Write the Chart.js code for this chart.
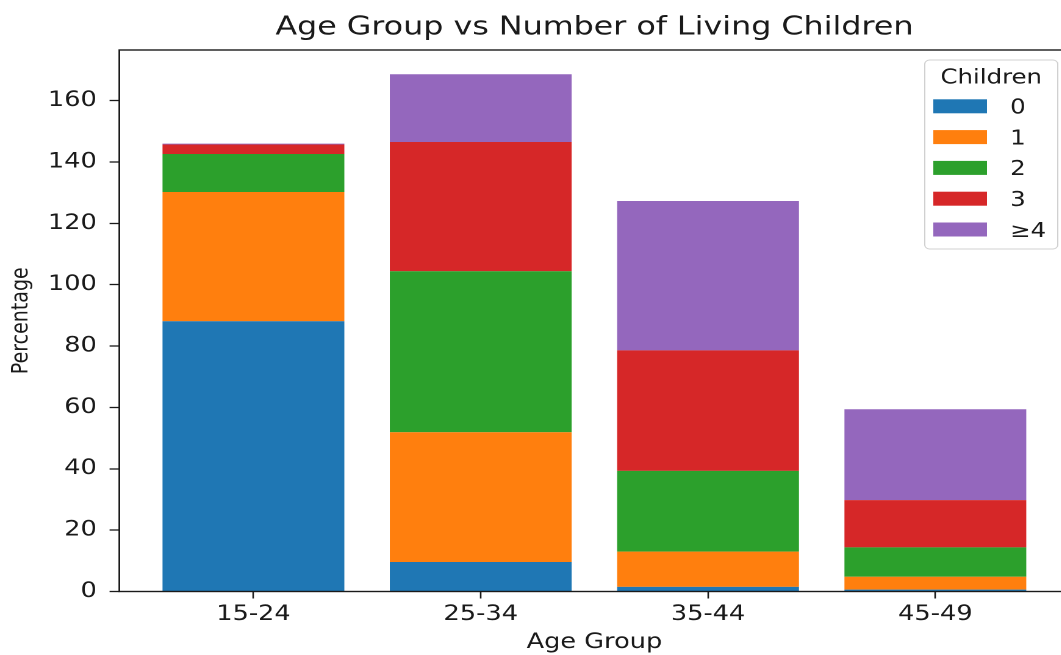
<!DOCTYPE html>
<html>
<head>
<meta charset="utf-8">
<script src="https://cdn.jsdelivr.net/npm/chart.js@4.4.1/dist/chart.umd.min.js"></script>
<style>
  html, body { margin: 0; padding: 0; background: #ffffff; overflow: hidden; }
  #frame { width: 1061px; height: 655px; overflow: hidden; position: relative; }
  #wrap { position: absolute; left: 0; top: 0; width: 885px; height: 655px;
          transform: scaleX(1.22); transform-origin: 0 0; }
</style>
</head>
<body>
<div id="frame"><div id="wrap"><canvas id="c" width="885" height="655"></canvas></div></div>
<script>
// Age groups along the x axis
const ageGroups = ['15-24', '25-34', '35-44', '45-49'];

// Percentage of women by number of living children, per age group
const children0 = [88.1, 9.6, 1.5, 0.6];
const children1 = [42.1, 42.3, 11.5, 4.2];
const children2 = [12.4, 52.5, 26.3, 9.6];
const children3 = [3.1, 42.1, 39.3, 15.4];
const children4 = [0.3, 22.1, 48.7, 29.6];

// Legend labels and y tick values
const childLabels = ['0', '1', '2', '3', '≥4'];
const yTickValues = [0, 20, 40, 60, 80, 100, 120, 140, 160];

const seriesValues = [children0, children1, children2, children3, children4];
const seriesColors = ['#1f77b4', '#ff7f0e', '#2ca02c', '#d62728', '#9467bd'];

const FONT = "'DejaVu Sans', 'Liberation Sans', sans-serif";
const INK = '#1a1a1a';

const datasets = seriesValues.map((vals, k) => ({
  label: childLabels[k],
  data: vals.map((v, i) => ({ x: i, y: v })),
  backgroundColor: seriesColors[k],
  borderWidth: 0,
  barPercentage: 1.0,
  categoryPercentage: 0.8
}));

// Axes frame (all four spines) drawn over the bars
const spinesPlugin = {
  id: 'spines',
  afterDatasetsDraw(chart) {
    const { ctx, chartArea: a } = chart;
    ctx.save();
    ctx.strokeStyle = INK;
    ctx.lineWidth = 1.4;
    ctx.strokeRect(a.left, a.top, a.right - a.left, a.bottom - a.top);
    ctx.restore();
  }
};

// Boxed legend with a title, placed in the upper right of the plot
const boxLegendPlugin = {
  id: 'boxLegend',
  afterDraw(chart) {
    const { ctx } = chart;
    const box = { x: 758, y: 60, w: 109, h: 189, r: 4 };
    ctx.save();
    ctx.beginPath();
    ctx.roundRect(box.x, box.y, box.w, box.h, box.r);
    ctx.fillStyle = 'rgba(255,255,255,0.8)';
    ctx.fill();
    ctx.strokeStyle = '#d0d0d0';
    ctx.lineWidth = 1;
    ctx.stroke();

    const fs = 20;
    ctx.fillStyle = INK;
    ctx.font = fs + 'px ' + FONT;
    ctx.textAlign = 'center';
    ctx.textBaseline = 'alphabetic';
    ctx.fillText('Children', box.x + box.w / 2, 83.5);

    ctx.textAlign = 'left';
    chart.data.datasets.forEach((ds, i) => {
      const cy = 106.3 + i * 30.8;
      ctx.fillStyle = ds.backgroundColor;
      ctx.fillRect(765, cy - 7, 44, 14);
      ctx.fillStyle = INK;
      ctx.fillText(ds.label, 828, cy + 0.365 * fs);
    });
    ctx.restore();
  }
};

new Chart(document.getElementById('c'), {
  type: 'bar',
  data: { datasets },
  options: {
    responsive: false,
    animation: false,
    devicePixelRatio: 2,
    layout: { padding: { left: 0, right: 8.4, top: 0, bottom: 0 } },
    plugins: {
      legend: { display: false },
      tooltip: { enabled: false },
      title: {
        display: true,
        fullSize: false,
        text: 'Age Group vs Number of Living Children',
        color: INK,
        font: { family: FONT, size: 26, weight: 'normal' },
        padding: { top: 12, bottom: 6.8 }
      }
    },
    scales: {
      x: {
        type: 'linear',
        stacked: true,
        offset: false,
        min: -0.59,
        max: 3.59,
        afterBuildTicks(scale) {
          scale.ticks = ageGroups.map((_, i) => ({ value: i }));
        },
        afterFit(scale) { scale.height = 63.5; },
        ticks: {
          color: INK,
          padding: 3.5,
          font: { family: FONT, size: 21 },
          callback: (v) => ageGroups[v] ?? ''
        },
        grid: {
          offset: false,
          drawOnChartArea: false,
          drawTicks: true,
          tickLength: 7,
          tickColor: INK,
          tickWidth: 1.3
        },
        border: { display: false },
        title: {
          display: true,
          text: 'Age Group',
          color: INK,
          font: { family: FONT, size: 21 },
          padding: { top: 0, bottom: 0 }
        }
      },
      y: {
        stacked: true,
        min: 0,
        max: 176.5,
        afterBuildTicks(scale) {
          scale.ticks = yTickValues.map(v => ({ value: v }));
        },
        afterFit(scale) { scale.width = 97.8; },
        ticks: {
          color: INK,
          padding: 10.5,
          font: { family: FONT, size: 21 }
        },
        grid: {
          drawOnChartArea: false,
          drawTicks: true,
          tickLength: 8,
          tickColor: INK,
          tickWidth: 1.3
        },
        border: { display: false },
        title: {
          display: true,
          text: 'Percentage',
          color: INK,
          font: { family: FONT, size: 19 },
          padding: { top: 6, bottom: 0 }
        }
      }
    }
  },
  plugins: [spinesPlugin, boxLegendPlugin]
});
</script>
</body>
</html>
